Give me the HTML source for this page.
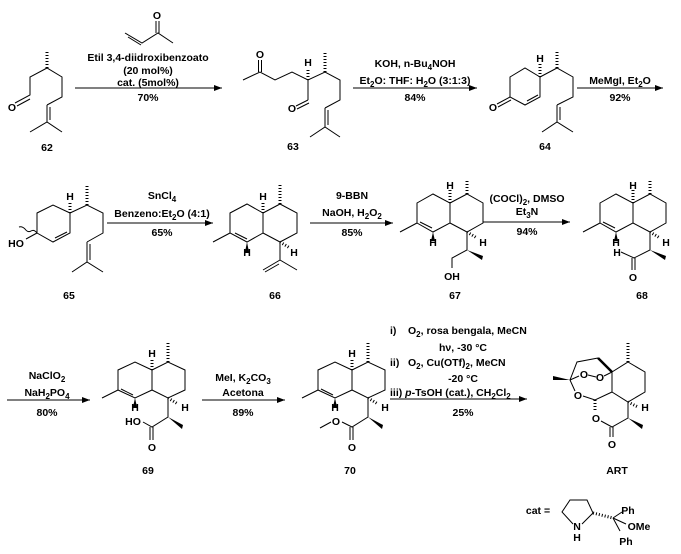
<!DOCTYPE html>
<html><head><meta charset="utf-8"><style>
html,body{margin:0;padding:0;background:#fff;}
svg{display:block;}
text{font-family:"Liberation Sans",Arial,sans-serif;font-weight:bold;font-size:10.5px;fill:#000;}
.c{text-anchor:middle;}
.s{font-size:8px;}
</style></head><body>
<svg width="681" height="554" viewBox="0 0 681 554" xmlns="http://www.w3.org/2000/svg">
<defs><marker id="ah" markerWidth="8" markerHeight="6" refX="8" refY="3" orient="auto" markerUnits="userSpaceOnUse"><path d="M0,0 L8,3 L0,6 z" fill="#000"/></marker></defs>
<g stroke="#000" stroke-width="1" fill="none">
<!-- arrows -->
<line x1="75" y1="88" x2="222" y2="88" marker-end="url(#ah)"/>
<line x1="353" y1="88" x2="477" y2="88" marker-end="url(#ah)"/>
<line x1="577" y1="88" x2="663" y2="88" marker-end="url(#ah)"/>
<line x1="107" y1="223" x2="213" y2="223" marker-end="url(#ah)"/>
<line x1="310" y1="223" x2="393" y2="223" marker-end="url(#ah)"/>
<line x1="483" y1="222" x2="570" y2="222" marker-end="url(#ah)"/>
<line x1="7" y1="400" x2="90" y2="400" marker-end="url(#ah)"/>
<line x1="202" y1="400" x2="285" y2="400" marker-end="url(#ah)"/>
<line x1="390" y1="399" x2="527" y2="399" marker-end="url(#ah)"/>

<!-- enone -->
<polyline points="125,33 142,43 158,33 173,43"/>
<line x1="128" y1="37" x2="141" y2="45"/>
<line x1="156" y1="33" x2="156" y2="21"/><line x1="159" y1="33" x2="159" y2="21"/>

<!-- 62 -->
<polyline points="15,103 30,95 30,77 47,68 62,77 62,97 47,105"/>
<line x1="17" y1="106" x2="30" y2="99"/>
<line x1="47" y1="105" x2="47" y2="122"/><line x1="50" y1="107" x2="50" y2="120"/>
<polyline points="30,132 47,122 62,132"/>
<line x1="47" y1="68" x2="47" y2="50" stroke-width="3" stroke-dasharray="1,2"/>

<!-- 63 -->
<polyline points="243,80 260,72 275,80 292,72 308,80 325,72 340,80 340,100 325,108"/>
<line x1="258.5" y1="72" x2="258.5" y2="60"/><line x1="261.5" y1="72" x2="261.5" y2="60"/>
<line x1="308" y1="80" x2="308" y2="100"/><line x1="308" y1="100" x2="296" y2="106"/><line x1="309" y1="103" x2="297" y2="109"/>
<line x1="325" y1="108" x2="325" y2="127"/><line x1="328" y1="110" x2="328" y2="125"/>
<polyline points="310,137 325,127 340,137"/>
<line x1="308" y1="80" x2="308" y2="68" stroke-width="3" stroke-dasharray="1,2"/>
<line x1="325" y1="72" x2="325" y2="53" stroke-width="3" stroke-dasharray="1,2"/>

<!-- 64 -->
<polygon points="510,77 525,68 540,77 540,97 525,105 510,97"/>
<line x1="527" y1="101" x2="538" y2="95"/>
<line x1="510" y1="97" x2="497" y2="104"/><line x1="511" y1="100" x2="498" y2="107"/>
<polyline points="540,77 557,68 573,77 573,97 557,105"/>
<line x1="557" y1="105" x2="557" y2="122"/><line x1="560" y1="107" x2="560" y2="120"/>
<polyline points="542,132 557,122 573,132"/>
<line x1="540" y1="77" x2="540" y2="64" stroke-width="3" stroke-dasharray="1,2"/>
<line x1="557" y1="68" x2="557" y2="50" stroke-width="3" stroke-dasharray="1,2"/>

<!-- 65 -->
<polygon points="37,213 53,205 70,213 70,233 53,242 37,233"/>
<line x1="55" y1="238" x2="67" y2="232"/>
<line x1="37" y1="233" x2="26" y2="239"/>
<path d="M37,233 q-3,-4 -6,-2 q-3,2 -6,-2 q-3,-3 -6,-2"/>
<polyline points="70,213 87,205 103,213 103,233 87,242"/>
<line x1="87" y1="242" x2="87" y2="262"/><line x1="90" y1="244" x2="90" y2="260"/>
<polyline points="72,272 87,262 103,272"/>
<line x1="70" y1="213" x2="70" y2="201" stroke-width="3" stroke-dasharray="1,2"/>
<line x1="87" y1="205" x2="87" y2="185" stroke-width="3" stroke-dasharray="1,2"/>

<!-- 66 -->
<polygon points="230,213 247,204 263,213 263,233 247,242 230,233"/>
<line x1="234" y1="236" x2="246" y2="242" transform="translate(1,-3)"/>
<line x1="230" y1="233" x2="213" y2="242"/>
<polyline points="263,213 280,204 297,213 297,233 280,242 263,233"/>
<line x1="263" y1="213" x2="263" y2="201" stroke-width="3" stroke-dasharray="1,2"/>
<line x1="280" y1="204" x2="280" y2="185" stroke-width="3" stroke-dasharray="1,2"/>
<line x1="280" y1="242" x2="290" y2="248" stroke-width="3" stroke-dasharray="1,2"/>
<polyline points="280,242 280,260 297,270"/>
<line x1="280" y1="260" x2="263" y2="270"/><line x1="279" y1="264" x2="265" y2="272"/>

<!-- 67 -->
<polygon points="417,203 433,194 450,203 450,223 433,232 417,223"/>
<line x1="420" y1="222" x2="432" y2="228"/>
<line x1="417" y1="223" x2="400" y2="232"/>
<polyline points="450,203 467,194 483,203 483,223 467,232 450,223"/>
<line x1="450" y1="203" x2="450" y2="190" stroke-width="3" stroke-dasharray="1,2"/>
<line x1="467" y1="194" x2="467" y2="180" stroke-width="3" stroke-dasharray="1,2"/>
<line x1="467" y1="232" x2="477" y2="238" stroke-width="3" stroke-dasharray="1,2"/>
<polyline points="467,232 467,250 452,258 452,268"/>

<!-- 68 -->
<polygon points="600,203 616,194 633,203 633,223 616,232 600,223"/>
<line x1="603" y1="222" x2="615" y2="228"/>
<line x1="600" y1="223" x2="583" y2="232"/>
<polyline points="633,203 650,194 666,203 666,223 650,232 633,223"/>
<line x1="633" y1="203" x2="633" y2="190" stroke-width="3" stroke-dasharray="1,2"/>
<line x1="650" y1="194" x2="650" y2="180" stroke-width="3" stroke-dasharray="1,2"/>
<line x1="650" y1="232" x2="660" y2="238" stroke-width="3" stroke-dasharray="1,2"/>
<polyline points="650,232 650,250 634,258 621,252"/>
<line x1="632" y1="258" x2="632" y2="270"/><line x1="635" y1="258" x2="635" y2="270"/>

<!-- 69 -->
<polygon points="118,370 135,362 152,370 152,390 135,398 118,390"/>
<line x1="121" y1="389" x2="133" y2="395"/>
<line x1="118" y1="390" x2="102" y2="398"/>
<polyline points="152,370 168,362 185,370 185,390 168,398 152,390"/>
<line x1="152" y1="370" x2="152" y2="358" stroke-width="3" stroke-dasharray="1,2"/>
<line x1="168" y1="362" x2="168" y2="343" stroke-width="3" stroke-dasharray="1,2"/>
<line x1="168" y1="398" x2="178" y2="404" stroke-width="3" stroke-dasharray="1,2"/>
<polyline points="168,398 168,417 152,427 143,422"/>
<line x1="150" y1="427" x2="150" y2="440"/><line x1="153" y1="427" x2="153" y2="440"/>

<!-- 70 -->
<polygon points="318,370 335,362 352,370 352,390 335,398 318,390"/>
<line x1="321" y1="389" x2="333" y2="395"/>
<line x1="318" y1="390" x2="302" y2="398"/>
<polyline points="352,370 368,362 385,370 385,390 368,398 352,390"/>
<line x1="352" y1="370" x2="352" y2="358" stroke-width="3" stroke-dasharray="1,2"/>
<line x1="368" y1="362" x2="368" y2="343" stroke-width="3" stroke-dasharray="1,2"/>
<line x1="368" y1="398" x2="378" y2="404" stroke-width="3" stroke-dasharray="1,2"/>
<polyline points="368,398 368,417 352,427 342,422"/>
<line x1="331" y1="422" x2="320" y2="428"/>
<line x1="350" y1="427" x2="350" y2="440"/><line x1="353" y1="427" x2="353" y2="440"/>

<!-- ART -->
<polygon points="628,362 645,372 645,392 628,402 612,392 612,372"/>
<line x1="628" y1="362" x2="628" y2="343" stroke-width="3" stroke-dasharray="1,2"/>
<line x1="628" y1="402" x2="638" y2="407" stroke-width="3" stroke-dasharray="1,2"/>
<polyline points="628,402 628,418 612,427 601,421"/>
<line x1="610" y1="427" x2="610" y2="437"/><line x1="613" y1="427" x2="613" y2="437"/>
<line x1="595" y1="400" x2="595" y2="412" stroke-width="3" stroke-dasharray="1,2"/>
<polyline points="612,392 595,400 583,396"/>
<polyline points="575,391 570,380 577,362 598,358"/>
<line x1="598" y1="358" x2="612" y2="372" stroke-width="2.5"/>
<line x1="612" y1="372" x2="604" y2="376"/>
<line x1="579" y1="376" x2="570" y2="380"/>
<line x1="588" y1="375" x2="596" y2="377"/>

<!-- cat -->
<polyline points="573,524 562,512 570,500 587,500 593,513 582,524"/>
<line x1="593" y1="513" x2="613" y2="518" stroke-width="3" stroke-dasharray="1,2"/>
<line x1="613" y1="518" x2="622" y2="512"/>
<line x1="613" y1="518" x2="626" y2="524"/>
<line x1="613" y1="518" x2="620" y2="531"/>
</g>
<g fill="#000">
<polygon points="168,417 183,425 182,429"/>
<polygon points="368,417 383,425 382,429"/>
<polygon points="467,250 483,256 482,260"/>
<polygon points="650,250 666,256 665,260"/>
<polygon points="628,418 643,425 642,429"/>
<polygon points="570,380 553,376 553,380"/>
<polygon points="247,242 245,252 249,252"/>
<polygon points="433,232 431,241 435,241"/>
<polygon points="616,232 614,241 618,241"/>
<polygon points="135,398 133,407 137,407"/>
<polygon points="335,398 333,407 337,407"/>
</g>

<!-- atom labels -->
<text x="157" y="19" class="c">O</text>
<text x="12" y="111" class="c">O</text>
<text x="260" y="58" class="c">O</text>
<text x="308" y="66" class="c">H</text>
<text x="292" y="112" class="c">O</text>
<text x="493" y="111" class="c">O</text>
<text x="540" y="62" class="c">H</text>
<text x="70" y="200" class="c">H</text>
<text x="16" y="247" class="c">HO</text>
<text x="263" y="200" class="c">H</text>
<text x="247" y="256" class="c">H</text>
<text x="294" y="256" class="c">H</text>
<text x="450" y="189" class="c">H</text>
<text x="433" y="246" class="c">H</text>
<text x="483" y="246" class="c">H</text>
<text x="452" y="280" class="c">OH</text>
<text x="633" y="189" class="c">H</text>
<text x="616" y="246" class="c">H</text>
<text x="666" y="246" class="c">H</text>
<text x="617" y="256" class="c">H</text>
<text x="633" y="281" class="c">O</text>
<text x="152" y="357" class="c">H</text>
<text x="135" y="411" class="c">H</text>
<text x="185" y="411" class="c">H</text>
<text x="133" y="425" class="c">HO</text>
<text x="152" y="451" class="c">O</text>
<text x="352" y="357" class="c">H</text>
<text x="335" y="411" class="c">H</text>
<text x="385" y="411" class="c">H</text>
<text x="336" y="425" class="c">O</text>
<text x="352" y="451" class="c">O</text>
<text x="645" y="411" class="c">H</text>
<text x="596" y="422" class="c">O</text>
<text x="612" y="448" class="c">O</text>
<text x="578" y="399" class="c">O</text>
<text x="584" y="378" class="c">O</text>
<text x="600" y="381" class="c">O</text>
<text x="577" y="530" class="c">N</text>
<text x="577" y="541" class="c">H</text>
<text x="628" y="514" class="c">Ph</text>
<text x="639" y="530" class="c">OMe</text>
<text x="626" y="545" class="c">Ph</text>
<text x="538" y="514" class="c">cat =</text>

<!-- compound labels -->
<text x="47" y="151" class="c">62</text>
<text x="293" y="150" class="c">63</text>
<text x="545" y="150" class="c">64</text>
<text x="69" y="299" class="c">65</text>
<text x="275" y="299" class="c">66</text>
<text x="455" y="299" class="c">67</text>
<text x="642" y="299" class="c">68</text>
<text x="148" y="474" class="c">69</text>
<text x="350" y="474" class="c">70</text>
<text x="617" y="474" class="c">ART</text>

<!-- conditions -->
<text x="148" y="61" class="c">Etil 3,4-diidroxibenzoato</text>
<text x="148" y="74" class="c">(20 mol%)</text>
<text x="148" y="86" class="c">cat. (5mol%)</text>
<text x="148" y="101" class="c">70%</text>
<text x="415" y="67" class="c">KOH, n-Bu<tspan class="s" dy="3">4</tspan><tspan dy="-3">NOH</tspan></text>
<text x="415" y="84" class="c">Et<tspan class="s" dy="3">2</tspan><tspan dy="-3">O: THF: H</tspan><tspan class="s" dy="3">2</tspan><tspan dy="-3">O (3:1:3)</tspan></text>
<text x="415" y="101" class="c">84%</text>
<text x="620" y="84" class="c">MeMgI, Et<tspan class="s" dy="3">2</tspan><tspan dy="-3">O</tspan></text>
<text x="620" y="101" class="c">92%</text>
<text x="162" y="199" class="c">SnCl<tspan class="s" dy="3">4</tspan></text>
<text x="162" y="217" class="c">Benzeno:Et<tspan class="s" dy="3">2</tspan><tspan dy="-3">O (4:1)</tspan></text>
<text x="162" y="236" class="c">65%</text>
<text x="352" y="199" class="c">9-BBN</text>
<text x="352" y="216" class="c">NaOH, H<tspan class="s" dy="3">2</tspan><tspan dy="-3">O</tspan><tspan class="s" dy="3">2</tspan></text>
<text x="352" y="236" class="c">85%</text>
<text x="527" y="202" class="c">(COCl)<tspan class="s" dy="3">2</tspan><tspan dy="-3">, DMSO</tspan></text>
<text x="527" y="215" class="c">Et<tspan class="s" dy="3">3</tspan><tspan dy="-3">N</tspan></text>
<text x="527" y="235" class="c">94%</text>
<text x="47" y="379" class="c">NaClO<tspan class="s" dy="3">2</tspan></text>
<text x="47" y="396" class="c">NaH<tspan class="s" dy="3">2</tspan><tspan dy="-3">PO</tspan><tspan class="s" dy="3">4</tspan></text>
<text x="47" y="416" class="c">80%</text>
<text x="243" y="381" class="c">MeI, K<tspan class="s" dy="3">2</tspan><tspan dy="-3">CO</tspan><tspan class="s" dy="3">3</tspan></text>
<text x="243" y="396" class="c">Acetona</text>
<text x="243" y="416" class="c">89%</text>
<text x="390" y="334">i)</text>
<text x="408" y="334">O<tspan class="s" dy="3">2</tspan><tspan dy="-3">, rosa bengala, MeCN</tspan></text>
<text x="463" y="351" class="c">hν, -30 °C</text>
<text x="390" y="366">ii)</text>
<text x="408" y="366">O<tspan class="s" dy="3">2</tspan><tspan dy="-3">, Cu(OTf)</tspan><tspan class="s" dy="3">2</tspan><tspan dy="-3">, MeCN</tspan></text>
<text x="463" y="382" class="c">-20 °C</text>
<text x="390" y="396">iii) <tspan font-style="italic">p</tspan>-TsOH (cat.), CH<tspan class="s" dy="3">2</tspan><tspan dy="-3">Cl</tspan><tspan class="s" dy="3">2</tspan></text>
<text x="463" y="416" class="c">25%</text>
</svg>
</body></html>
